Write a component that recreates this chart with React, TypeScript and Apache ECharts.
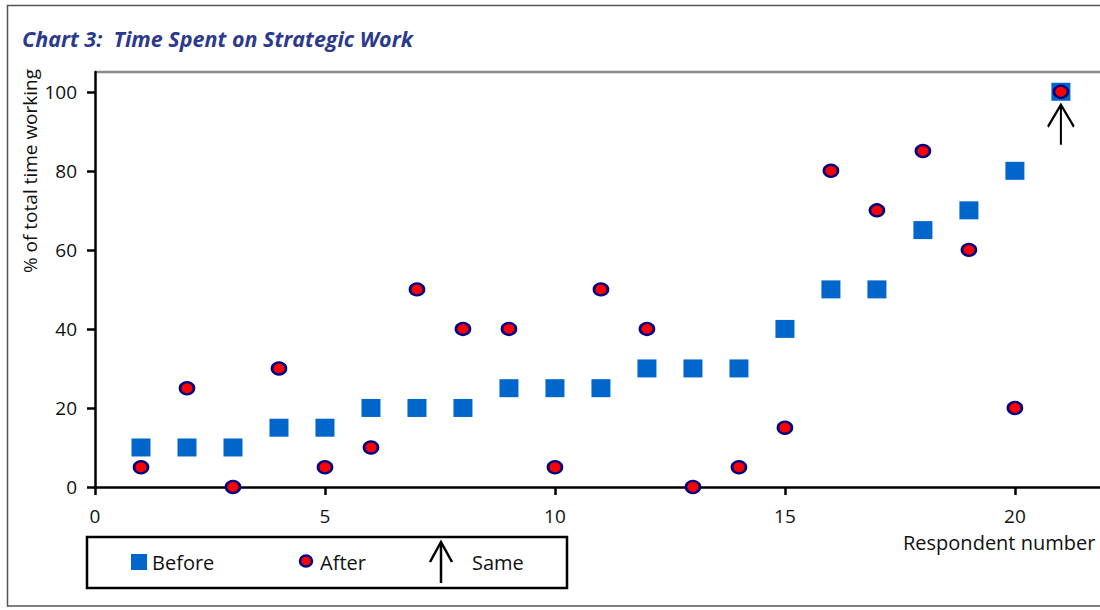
import React, { useEffect, useRef } from "react";
import * as echarts from "echarts";

// Respondents 1..21, share of working time spent on strategic work (%)
const respondents = [1, 2, 3, 4, 5, 6, 7, 8, 9, 10, 11, 12, 13, 14, 15, 16, 17, 18, 19, 20, 21];
const before = [10, 10, 10, 15, 15, 20, 20, 20, 25, 25, 25, 30, 30, 30, 40, 50, 50, 65, 70, 80, 100];
const after = [5, 25, 0, 30, 5, 10, 50, 40, 40, 5, 50, 40, 0, 5, 15, 80, 70, 85, 60, 20, 100];
// Respondents whose share did not change
const same = [21];

const xTicks = [0, 5, 10, 15, 20];
const yTicks = [0, 20, 40, 60, 80, 100];

const FONT = "'Open Sans', 'Noto Sans', sans-serif";
const ARROW = "path://M13,0 L13,40 M0,22 L13,0 L26,22";

export default function App() {
  const ref = useRef<HTMLDivElement>(null);

  useEffect(() => {
    if (!ref.current) return;
    const chart = echarts.init(ref.current, undefined, { renderer: "svg" });

    const beforeData = respondents.map((r, i) => [r, before[i]]);
    const afterData = respondents.map((r, i) => [r, after[i]]);
    const sameData = same.map((r) => [r, after[respondents.indexOf(r)]]);

    chart.setOption({
      animation: false,
      backgroundColor: "#fff",
      textStyle: { fontFamily: FONT },
      grid: { left: 95, top: 72, right: 0, height: 415, containLabel: false },
      xAxis: {
        type: "value",
        min: 0,
        max: 21.85,
        axisLine: { show: true, onZero: false, lineStyle: { color: "#000", width: 2.5 } },
        axisTick: { show: true, length: 8, customValues: xTicks, lineStyle: { color: "#000", width: 2.5 } },
        axisLabel: { customValues: xTicks, margin: 19, fontSize: 19, color: "#111", fontFamily: FONT },
        splitLine: { show: false },
      },
      yAxis: {
        type: "value",
        min: 0,
        max: 105,
        axisLine: { show: true, lineStyle: { color: "#000", width: 2.5 } },
        axisTick: { show: true, length: 8, customValues: yTicks, lineStyle: { color: "#000", width: 2.5 } },
        axisLabel: { customValues: yTicks, margin: 18, fontSize: 19, color: "#111", fontFamily: FONT },
        splitLine: { show: false },
      },
      series: [
        {
          name: "Before",
          type: "scatter",
          symbol: "rect",
          symbolSize: [19, 18],
          itemStyle: { color: "#0066cc", opacity: 1 },
          data: beforeData,
          z: 2,
        },
        {
          name: "After",
          type: "scatter",
          symbol: "circle",
          symbolSize: [14, 12],
          itemStyle: { color: "#ff0000", borderColor: "#000080", borderWidth: 2.5, opacity: 1 },
          data: afterData,
          z: 3,
        },
        {
          name: "Same",
          type: "scatter",
          symbol: ARROW,
          symbolSize: [26, 40],
          symbolOffset: [0, 33],
          itemStyle: { color: "none", borderColor: "#000", borderWidth: 2.5, opacity: 1 },
          data: sameData,
          z: 4,
        },
      ],
      graphic: [
        // outer frame: left, top and bottom edges (open on the right)
        {
          type: "polyline",
          shape: { points: [[1100, 5.5], [7.5, 5.5], [7.5, 606], [1100, 606]] },
          style: { fill: "none", stroke: "#555", lineWidth: 1.5 },
          silent: true,
        },
        // top edge of the plot area
        {
          type: "line",
          shape: { x1: 95, y1: 72, x2: 1100, y2: 72 },
          style: { stroke: "#8a8a8a", lineWidth: 2.5 },
          silent: true,
        },
        {
          type: "text",
          x: 22,
          y: 38,
          style: {
            text: "Chart 3:  Time Spent on Strategic Work",
            font: `italic bold 21.5px ${FONT}`,
            fill: "#2b3a8e",
            verticalAlign: "middle",
          },
        },
        {
          type: "text",
          x: 30,
          y: 171,
          rotation: Math.PI / 2,
          style: {
            text: "% of total time working",
            font: `19px ${FONT}`,
            fill: "#111",
            align: "center",
            verticalAlign: "middle",
          },
        },
        {
          type: "text",
          x: 903,
          y: 542,
          style: {
            text: "Respondent number",
            font: `20px ${FONT}`,
            fill: "#111",
            align: "left",
            verticalAlign: "middle",
          },
        },
        // legend
        {
          type: "rect",
          shape: { x: 87, y: 537, width: 480, height: 51 },
          style: { fill: "none", stroke: "#000", lineWidth: 2.5 },
        },
        {
          type: "rect",
          shape: { x: 131, y: 554, width: 16, height: 16 },
          style: { fill: "#0066cc" },
        },
        {
          type: "text",
          x: 152,
          y: 562,
          style: { text: "Before", font: `20px ${FONT}`, fill: "#111", verticalAlign: "middle" },
        },
        {
          type: "ellipse",
          shape: { cx: 306, cy: 561, rx: 6, ry: 5.5 },
          style: { fill: "#ff0000", stroke: "#000080", lineWidth: 2.5 },
        },
        {
          type: "text",
          x: 320,
          y: 562,
          style: { text: "After", font: `20px ${FONT}`, fill: "#111", verticalAlign: "middle" },
        },
        {
          type: "polyline",
          shape: { points: [[441, 583], [441, 542]] },
          style: { stroke: "#000", lineWidth: 2.5, fill: "none" },
        },
        {
          type: "polyline",
          shape: { points: [[430, 562], [441, 542], [452, 562]] },
          style: { stroke: "#000", lineWidth: 2.5, fill: "none" },
        },
        {
          type: "text",
          x: 472,
          y: 562,
          style: { text: "Same", font: `20px ${FONT}`, fill: "#111", verticalAlign: "middle" },
        },
      ],
    });

    return () => chart.dispose();
  }, []);

  return (
    <div
      ref={ref}
      style={{ position: "fixed", left: 0, top: 0, width: 1100, height: 610 }}
    />
  );
}
